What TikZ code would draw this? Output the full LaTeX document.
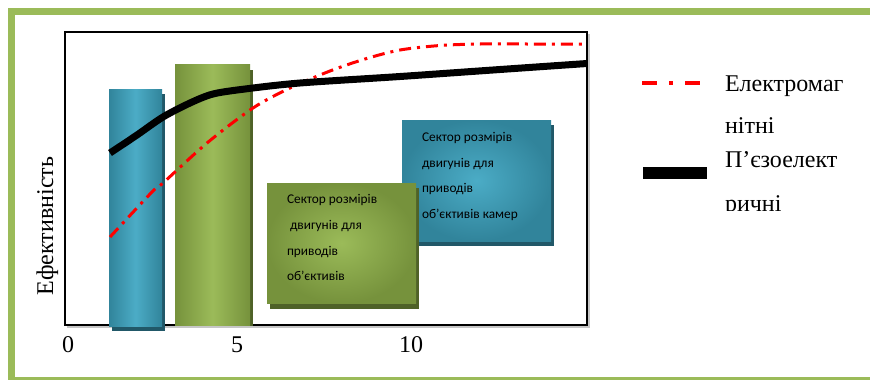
\documentclass[tikz,border=0pt]{standalone}
\usepackage{fontspec}
\setmainfont{Liberation Serif}
\newfontfamily\boxfont{Carlito}
\definecolor{frameg}{HTML}{9BBB59}
\definecolor{bdark}{HTML}{31849B}
\definecolor{blight}{HTML}{4BACC6}
\definecolor{bshadow}{HTML}{215868}
\definecolor{gdark}{HTML}{76923C}
\definecolor{glight}{HTML}{9BBB59}
\definecolor{gshadow}{HTML}{4F6228}
\begin{document}
\begin{tikzpicture}[x=0.75pt,y=-0.75pt,
  every node/.style={inner sep=0pt,outer sep=0pt},
  bigtext/.style={font=\fontsize{18}{20}\selectfont},
  boxtext/.style={font=\boxfont\fontsize{10}{12}\selectfont,anchor=base west},
  bluebar/.style={left color=bdark,right color=bdark,middle color=blight},
  greenbar/.style={left color=gdark,right color=gdark,middle color=glight},
  bluebox/.style={inner color=blight,outer color=bdark},
  greenbox/.style={inner color=glight,outer color=gdark},
  emcurve/.style={red,line width=2.25pt,dash pattern=on 9pt off 4.5pt on 2.25pt off 4.5pt},
  pzcurve/.style={black,line width=5.25pt,line join=round},
]
\useasboundingbox (0,0) rectangle (870,379);
\clip (0,0) rectangle (870,379);
% outer frame
\draw[frameg,line width=5.25pt] (11.5,11.5) rectangle (910,380.5);
% plot box
\draw[gray!45,line width=1.5pt] (589,34) -- (589,327) -- (67,327);
\draw[black,line width=1.5pt,fill=white] (65,32) rectangle (587,325);
% bars
\fill[bshadow] (112,94) rectangle (165,331);
\shade[bluebar] (109,89) rectangle (162,326);
\fill[gshadow] (178,70) rectangle (253,326);
\shade[greenbar] (175,64) rectangle (250,325);
% blue text box
\fill[bshadow] (405,125) rectangle (554,246);
\shade[bluebox] (402,120) rectangle (551,241);
\node[boxtext] (b1) at (422,141) {Сектор розмірів};
\node[boxtext] (b2) at (422,167) {двигунів для};
\node[boxtext] (b3) at (422,192) {приводів};
\node[boxtext] (b4) at (422,218) {об’єктивів камер};
% green text box
\fill[gshadow] (270,188) rectangle (419,309);
\shade[greenbox] (267,183) rectangle (416,303);
\node[boxtext] (g1) at (287,203) {Сектор розмірів};
\node[boxtext] (g2) at (290,229) {двигунів для};
\node[boxtext] (g3) at (287,255) {приводів};
\node[boxtext] (g4) at (287,280) {об’єктивів};
% curves
\draw[emcurve] plot[smooth,tension=0.5] coordinates {(110,237) (152,192) (163,183) (207,143) (253,108) (290,88) (330,71) (365,59) (400,50) (440,45.5) (480,44) (530,44) (587,44)};
\draw[pzcurve] plot[smooth,tension=0.5] coordinates {(110,153) (137,135) (163,117) (190,103) (213,94) (245,89) (300,83) (400,76.5) (500,69.5) (587,63.5)};
% axis labels
\node[bigtext,anchor=base] (t0) at (68,352) {0};
\node[bigtext,anchor=base] (t5) at (237,352) {5};
\node[bigtext,anchor=base] (t10) at (411,352) {10};
\node[bigtext,anchor=base,rotate=90] (ylab) at (53,226) {Ефективність};
% legend
\coordinate (l1a) at (642,83); \coordinate (l1b) at (702,83);
\draw[red,line width=3pt,dash pattern=on 11.25pt off 9pt on 3pt off 9pt] (l1a) -- (l1b);
\coordinate (l2a) at (643,173); \coordinate (l2b) at (707,173);
\draw[black,line width=9pt] (l2a) -- (l2b);
\node[bigtext,anchor=base west] (e1) at (725,91) {Електромаг};
\node[bigtext,anchor=base west] (e2) at (725,133) {нітні};
\node[bigtext,anchor=base west] (p1) at (725,167) {П’єзоелект};
\begin{scope}
\clip (700,180) rectangle (870,210.5);
\node[bigtext,anchor=base west] (p2) at (725,211) {ричні};
\end{scope}
\end{tikzpicture}
\end{document}
